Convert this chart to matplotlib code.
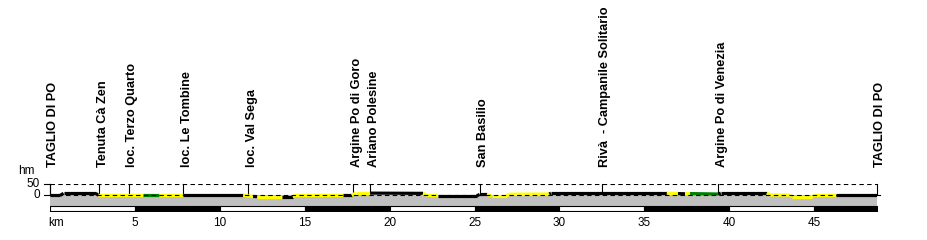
import matplotlib
matplotlib.use("Agg")
import matplotlib.pyplot as plt
import numpy as np

plt.rcParams["font.family"] = ["Liberation Sans", "DejaVu Sans"]

# profile nodes: distance (km) and elevation
profile_km = [0.0, 0.6, 0.8, 2.7, 2.85, 5.48, 6.42, 7.83, 11.37, 11.96,
              12.19, 13.65, 14.29, 14.45, 17.24, 17.77, 18.0, 18.85, 21.97, 22.2,
              22.85, 25.13, 25.3, 25.72, 26.0, 26.9, 27.0, 29.4, 29.5, 36.32,
              36.98, 37.4, 37.69, 39.36, 39.5, 42.21, 42.4, 43.58, 43.7, 44.86,
              45.0, 46.29, 48.7]
profile_elev = [0, 0, 9, 9, 0, 0, 0, 0, 0, -5,
                -6, -6, -6, 0, 0, 0, 10, 10, 9, 0,
                -2, -2, 4, 4, -3, -3, 5, 6, 10, 10,
                8, 7, 8, 6, 10, 10, 2, 1, -6, -6,
                0, 0, 0]
# surface of each interval between nodes: a=asphalt(black), s=yellow, g=green
surface = ["a", "a", "a", "a", "s", "g", "s", "a", "s", "a",
           "s", "a", "s", "s", "a", "s", "s", "a", "s", "s",
           "a", "a", "a", "s", "s", "s", "s", "a", "a", "s",
           "a", "s", "g", "a", "a", "s", "s", "s", "s", "s",
           "s", "a"]

place_names = ["TAGLIO DI PO", "Tenuta Cà Zen", "loc. Terzo Quarto", "loc. Le Tombine",
               "loc. Val Sega", "Argine Po di Goro", "Ariano Polesine", "San Basilio",
               "Rivà  - Campanile Solitario", "Argine Po di Venezia", "TAGLIO DI PO"]
place_km = [0.0, 2.9, 4.63, 7.85, 11.68, 17.87, 18.85, 25.3, 32.5, 39.36, 48.7]

km_ticks = [5, 10, 15, 20, 25, 30, 35, 40, 45]
total_km = 48.7

colors = {"a": "black", "s": "#ffff00", "g": "#008000"}

fig = plt.figure(figsize=(9.27, 2.4), dpi=100)
ax = fig.add_axes([50 / 927, 29.5 / 240, 827 / 927, 26.5 / 240])
ax.set_xlim(0, total_km)
ax.set_ylim(-69, 51.5)
ax.axis("off")

# gray ground band
ax.fill_between([0, total_km], -47, 0, color="#c0c0c0", lw=0, zorder=1)

# scale bar, alternating 5 km blocks
for i, start in enumerate(np.arange(0, total_km, 5)):
    end = min(start + 5, total_km)
    fc = "white" if i % 2 == 0 else "black"
    ax.fill_between([start, end], -69, -48, facecolor=fc, edgecolor="black",
                    lw=0.8, zorder=2)

# reference line at 50
ax.plot([0, total_km], [50, 50], color="black", lw=0.8, ls=(0, (4, 3)), zorder=3)

# profile
for i, s in enumerate(surface):
    ax.plot(profile_km[i:i + 2], profile_elev[i:i + 2], color=colors[s],
            lw=2.3, solid_capstyle="butt", zorder=4)

ax.plot([0, total_km], [0, 0], color="black", lw=0.8, ls=(0, (4, 3)), zorder=5)

# left axis with ticks
tick_tr = ax.get_yaxis_transform()
ax.plot([0, 0], [0, 50], color="black", lw=0.8, zorder=5, clip_on=False)
for v, lab in ((50, "50"), (0, "0")):
    ax.plot([-6 / 827, 0], [v, v], color="black", lw=0.8, transform=tick_tr,
            clip_on=False)
    ax.text(-10 / 827, v, lab, transform=tick_tr, ha="right", va="center",
            fontsize=8.5)
ax.text(-15 / 827, 82, "hm", transform=tick_tr, ha="right", va="bottom",
        fontsize=8.5)
ax.plot([1, 1 + 3 / 827], [0, 0], color="black", lw=0.8, transform=tick_tr,
        clip_on=False)

# place markers and names
for name, km in zip(place_names, place_km):
    z = np.interp(km, profile_km, profile_elev)
    ax.plot([km, km], [50, z], color="black", lw=0.8, zorder=3, clip_on=False)
    ax.annotate(name, (km, 50), xytext=(2.5, 12.5), textcoords="offset points",
                rotation=90, ha="center", va="bottom", fontsize=9.2,
                fontweight="bold", annotation_clip=False)

# km labels
for k in km_ticks:
    ax.annotate(str(k), (k, -69), xytext=(0, -5), textcoords="offset points",
                ha="center", va="top", fontsize=8.5, annotation_clip=False)
ax.annotate("km", (0, -69), xytext=(-1.5, -5), textcoords="offset points",
            ha="left", va="top", fontsize=8.5, annotation_clip=False)

fig.savefig("out.png", dpi=100)
